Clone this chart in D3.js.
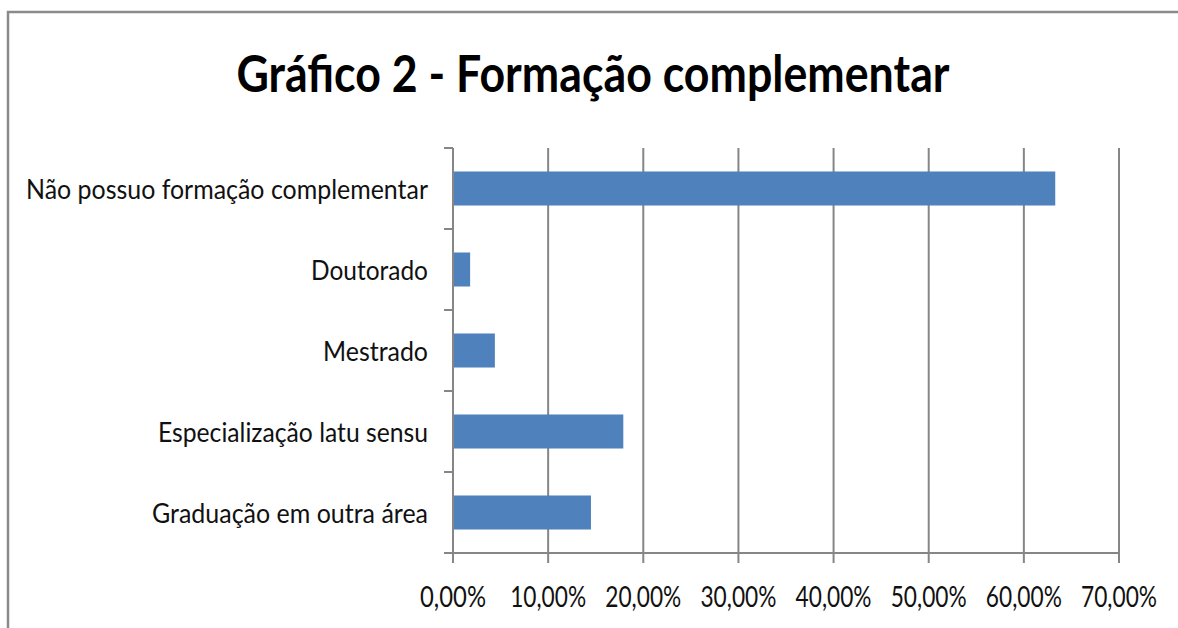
<!DOCTYPE html>
<html><head><meta charset="utf-8">
<script src="https://cdn.jsdelivr.net/npm/d3@7"></script>
<style>body{margin:0;background:#fff}svg{display:block}</style>
</head><body>
<svg id="c" width="1178" height="628"></svg>
<script>
const categories = ["Não possuo formação complementar","Doutorado","Mestrado","Especialização latu sensu","Graduação em outra área"];
const values = [0.633, 0.018, 0.044, 0.179, 0.145];
const tickValues = [0,0.1,0.2,0.3,0.4,0.5,0.6,0.7];
const tickLabels = ["0,00%","10,00%","20,00%","30,00%","40,00%","50,00%","60,00%","70,00%"];
const title = "Gráfico 2 - Formação complementar";

const svg = d3.select("#c");
const W=1178,H=628;
svg.append("rect").attr("x",0).attr("y",0).attr("width",W).attr("height",H).attr("fill","#fff");
// outer frame
svg.append("path").attr("d","M8,640 L8,12 L1190,12").attr("fill","none").attr("stroke","#8a8a8a").attr("stroke-width",2.5);

const m={l:453,r:1119,t:148,b:553};
const x=d3.scaleLinear().domain([0,0.7]).range([m.l,m.r]);
const y=d3.scaleBand().domain(categories).range([m.t,m.b]).paddingInner(0.58).paddingOuter(0.29);
const yb=d3.scaleBand().domain(categories).range([m.t,m.b]);
const grey="#868686";
const font="Lato, 'Open Sans', sans-serif";

// gridlines
svg.append("g").selectAll("line").data(tickValues.slice(1)).join("line")
 .attr("x1",d=>x(d)).attr("x2",d=>x(d)).attr("y1",m.t).attr("y2",m.b)
 .attr("stroke",grey).attr("stroke-width",2);

// bars
svg.append("g").selectAll("rect").data(values).join("rect")
 .attr("x",x(0)).attr("y",(d,i)=>y(categories[i])).attr("width",d=>x(d)-x(0)).attr("height",y.bandwidth())
 .attr("fill","#4F81BD");

// y axis
const yAxis=svg.append("g");
yAxis.append("line").attr("x1",m.l).attr("x2",m.l).attr("y1",m.t).attr("y2",m.b).attr("stroke",grey).attr("stroke-width",2);
const yTicks=categories.map(c=>yb(c)).concat([m.b]);
yAxis.selectAll("line.t").data(yTicks).join("line").attr("class","t")
 .attr("x1",m.l-9).attr("x2",m.l).attr("y1",d=>d).attr("y2",d=>d).attr("stroke",grey).attr("stroke-width",2);
const labelW=[402,117,105,270,276];
yAxis.selectAll("text").data(categories).join("text")
 .attr("x",428).attr("y",c=>yb(c)+yb.bandwidth()/2+10)
 .attr("text-anchor","end").attr("font-family",font).attr("font-size",27).attr("fill","#111")
 .attr("textLength",(d,i)=>labelW[i]).attr("lengthAdjust","spacingAndGlyphs")
 .text(d=>d);

// x axis
const xAxis=svg.append("g");
xAxis.append("line").attr("x1",m.l-9).attr("x2",m.r).attr("y1",m.b).attr("y2",m.b).attr("stroke",grey).attr("stroke-width",2);
xAxis.selectAll("line.t").data(tickValues).join("line").attr("class","t")
 .attr("x1",d=>x(d)).attr("x2",d=>x(d)).attr("y1",m.b).attr("y2",m.b+10).attr("stroke",grey).attr("stroke-width",2);
xAxis.selectAll("text").data(tickValues).join("text")
 .attr("x",d=>x(d)).attr("y",607).attr("text-anchor","middle")
 .attr("font-family",font).attr("font-size",29).attr("fill","#111")
 .attr("textLength",(d,i)=>i===0?66:76).attr("lengthAdjust","spacingAndGlyphs")
 .text((d,i)=>tickLabels[i]);

// title
svg.append("text").attr("x",593).attr("y",92).attr("text-anchor","middle")
 .attr("font-family",font).attr("font-weight","bold").attr("font-size",51).attr("fill","#000")
 .attr("textLength",713).attr("lengthAdjust","spacingAndGlyphs").text(title);
</script>
</body></html>
